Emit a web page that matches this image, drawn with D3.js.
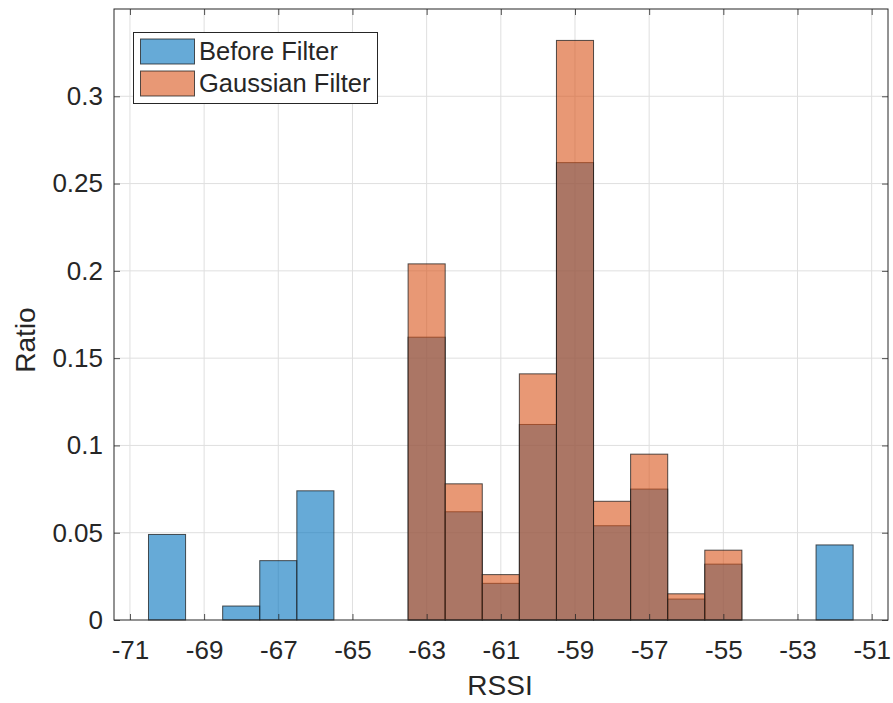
<!DOCTYPE html>
<html>
<head>
<meta charset="utf-8">
<script src="https://cdn.jsdelivr.net/npm/d3@7"></script>
<style>
  html, body { margin: 0; padding: 0; background: #fff; }
  svg { display: block; }
  text { font-family: "Liberation Sans", Arial, Helvetica, sans-serif; fill: #262626; }
</style>
</head>
<body>
<script>
// ---- data ----
const binCenters = [-70, -69, -68, -67, -66, -65, -64, -63, -62, -61, -60, -59, -58, -57, -56, -55, -54, -53, -52];
const beforeFilter = [0.049, 0, 0.008, 0.034, 0.074, 0, 0, 0.162, 0.062, 0.021, 0.112, 0.262, 0.054, 0.075, 0.012, 0.032, 0, 0, 0.043];
const gaussianFilter = [0, 0, 0, 0, 0, 0, 0, 0.204, 0.078, 0.026, 0.141, 0.332, 0.068, 0.095, 0.015, 0.040, 0, 0, 0];
const xTicks = [-71, -69, -67, -65, -63, -61, -59, -57, -55, -53, -51];
const yTicks = [0, 0.05, 0.1, 0.15, 0.2, 0.25, 0.3];
const seriesNames = ["Before Filter", "Gaussian Filter"];
const binWidth = 1;

// ---- layout ----
const W = 893, H = 703;
const mLeft = 114, mRight = 888, mTop = 9, mBottom = 620;
const blueBase = "#0072BD", orangeBase = "#D95319";

const svg = d3.select("body").append("svg").attr("width", W).attr("height", H);

const x = d3.scaleLinear().domain([-71.43, -50.56]).range([mLeft, mRight]);
const y = d3.scaleLinear().domain([0, 0.35]).range([mBottom, mTop]);

// grid
const grid = svg.append("g");
grid.selectAll("line.vx").data(xTicks).join("line")
  .attr("x1", d => x(d)).attr("x2", d => x(d)).attr("y1", mTop).attr("y2", mBottom)
  .attr("stroke", "#dfdfdf").attr("stroke-width", 1);
grid.selectAll("line.hy").data(yTicks.slice(1)).join("line")
  .attr("y1", d => y(d)).attr("y2", d => y(d)).attr("x1", mLeft).attr("x2", mRight)
  .attr("stroke", "#dfdfdf").attr("stroke-width", 1);

function drawBars(vals, color) {
  const data = binCenters.map((c, i) => ({c, v: vals[i]})).filter(d => d.v > 0);
  svg.append("g").selectAll("rect").data(data).join("rect")
    .attr("x", d => x(d.c - binWidth / 2))
    .attr("width", d => x(d.c + binWidth / 2) - x(d.c - binWidth / 2))
    .attr("y", d => y(d.v))
    .attr("height", d => y(0) - y(d.v))
    .attr("fill", color).attr("fill-opacity", 0.6)
    .attr("stroke", "#1a1a1a").attr("stroke-opacity", 0.75).attr("stroke-width", 1);
}
drawBars(beforeFilter, blueBase);
drawBars(gaussianFilter, orangeBase);

// axes
const axisColor = "#262626";
const xAxis = svg.append("g").attr("transform", `translate(0,${mBottom})`)
  .call(d3.axisBottom(x).tickValues(xTicks).tickSizeInner(-6).tickSizeOuter(0).tickPadding(21).tickFormat(d => d));
const xAxisTop = svg.append("g").attr("transform", `translate(0,${mTop})`)
  .call(d3.axisTop(x).tickValues(xTicks).tickSizeInner(-6).tickSizeOuter(0).tickFormat(""));
const yAxis = svg.append("g").attr("transform", `translate(${mLeft},0)`)
  .call(d3.axisLeft(y).tickValues(yTicks).tickSizeInner(-6).tickSizeOuter(0).tickPadding(11).tickFormat(d => d));
const yAxisRight = svg.append("g").attr("transform", `translate(${mRight},0)`)
  .call(d3.axisRight(y).tickValues(yTicks).tickSizeInner(-6).tickSizeOuter(0).tickFormat(""));

[xAxis, xAxisTop, yAxis, yAxisRight].forEach(g => {
  g.select(".domain").remove();
  g.selectAll(".tick line").attr("stroke", axisColor).attr("stroke-width", 0.8);
  g.selectAll(".tick text").attr("fill", axisColor).style("font-size", "26px")
    .style("font-family", "'Liberation Sans', Arial, sans-serif");
});
xAxis.selectAll(".tick text").attr("dy", "0.71em");

// box
svg.append("rect").attr("x", mLeft).attr("y", mTop).attr("width", mRight - mLeft).attr("height", mBottom - mTop)
  .attr("fill", "none").attr("stroke", axisColor).attr("stroke-width", 1);

// axis labels
svg.append("text").attr("x", (mLeft + mRight) / 2 - 1).attr("y", 695).attr("text-anchor", "middle")
  .style("font-size", "28px").text("RSSI");
svg.append("text").attr("transform", `translate(35,340) rotate(-90)`)
  .attr("text-anchor", "middle").style("font-size", "28px").text("Ratio");

// legend
const lg = svg.append("g");
lg.append("rect").attr("x", 133.5).attr("y", 32.5).attr("width", 244).attr("height", 71)
  .attr("fill", "#fff").attr("stroke", axisColor).attr("stroke-width", 1);
const colors = [blueBase, orangeBase];
seriesNames.forEach((name, i) => {
  const yy = 39 + i * 32;
  lg.append("rect").attr("x", 140.5).attr("y", yy).attr("width", 54).attr("height", 25)
    .attr("fill", colors[i]).attr("fill-opacity", 0.6)
    .attr("stroke", "#1a1a1a").attr("stroke-opacity", 0.75).attr("stroke-width", 1);
  lg.append("text").attr("x", 199).attr("y", yy + 21).style("font-size", "25.5px").text(name);
});
</script>
</body>
</html>
